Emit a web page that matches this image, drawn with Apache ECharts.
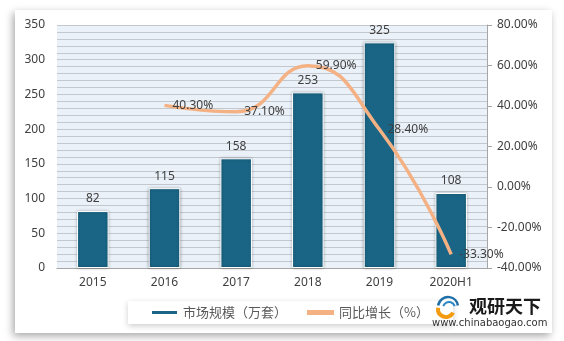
<!DOCTYPE html>
<html><head><meta charset="utf-8">
<script src="https://cdn.jsdelivr.net/npm/echarts@6/dist/echarts.min.js"></script>
<style>html,body{margin:0;padding:0;background:#fff;}#c{width:564px;height:341px;}</style>
</head><body><div id="c"></div>
<script>
const categories = ['2015','2016','2017','2018','2019','2020H1'];
const marketSize = [82,115,158,253,325,108];
const growth = [null,40.3,37.1,59.9,28.4,-33.3];
const leftTicks = {min:0,max:350,interval:50};
const rightTicks = {min:-40,max:80,interval:20};
const seriesNames = ['市场规模（万套）','同比增长（%）'];

const FONT = "'Noto Sans','Noto Sans CJK SC',sans-serif";
const chart = echarts.init(document.getElementById('c'), null, {renderer:'canvas'});
chart.setOption({
  animation:false,
  textStyle:{fontFamily:FONT},
  graphic:[
    {type:'rect', z:-10, shape:{x:15,y:10,width:537,height:323},
     style:{fill:'#fff', shadowBlur:8, shadowColor:'rgba(0,0,0,0.35)', shadowOffsetX:-2, shadowOffsetY:3}},
    {type:'arc', z:10, shape:{cx:448,cy:307,r:10,startAngle:Math.PI*1.05,endAngle:Math.PI*1.95},
     style:{stroke:'#1f6fa8', lineWidth:2.5, fill:null}},
    {type:'arc', z:10, shape:{cx:449,cy:308,r:6,startAngle:Math.PI*1.1,endAngle:Math.PI*1.9},
     style:{stroke:'#2a86c5', lineWidth:2, fill:null}},
    {type:'arc', z:10, shape:{cx:446,cy:309,r:8,startAngle:Math.PI*0.15,endAngle:Math.PI*1.05},
     style:{stroke:'#f39c12', lineWidth:4, fill:null}},
    {type:'text', z:10, left:469, top:297, style:{text:'观研天下', font:"bold 18px 'Noto Sans CJK SC'", fill:'#1a1a1a'}},
    {type:'text', z:10, left:432, top:318, style:{text:'www.chinabaogao.com', font:"10px 'DejaVu Sans','Noto Sans'", fill:'#333'}}
  ],
  grid:{left:57,right:77,top:25,bottom:73,show:true,backgroundColor:'#eaf1f8',borderWidth:0},
  legend:{
    data:[{name:seriesNames[0],icon:'rect'},{name:seriesNames[1],icon:'rect'}],
    left:128, top:301, itemWidth:27, itemHeight:5, itemGap:20,
    padding:[5,24,5,22],
    backgroundColor:'#fff', shadowBlur:6, shadowColor:'rgba(0,0,0,0.2)', shadowOffsetY:2,
    textStyle:{color:'#595959',fontSize:13,fontFamily:"'Noto Sans CJK SC',sans-serif"}
  },
  xAxis:{type:'category',data:categories,
    axisLine:{lineStyle:{color:'#a6a6a6',width:1}},axisTick:{show:false},
    axisLabel:{color:'#404040',fontSize:12,margin:9}},
  yAxis:[
    {type:'value',min:leftTicks.min,max:leftTicks.max,interval:leftTicks.interval,
     axisLine:{show:false},axisTick:{show:false},
     axisLabel:{color:'#404040',fontSize:12,margin:12},
     splitLine:{lineStyle:{color:'#c3c8ce',width:1}},
     minorTick:{show:false,splitNumber:5},
     minorSplitLine:{show:true,lineStyle:{color:'#c3c8ce',width:1}}},
    {type:'value',min:rightTicks.min,max:rightTicks.max,interval:rightTicks.interval,position:'right',
     axisLine:{show:true,lineStyle:{color:'#a6a6a6'}},axisTick:{show:true,length:5,lineStyle:{color:'#a6a6a6'}},
     axisLabel:{color:'#404040',fontSize:12,margin:10,formatter:v=>v.toFixed(2)+'%'},
     splitLine:{show:false}}
  ],
  series:[
    {name:seriesNames[0],type:'bar',data:marketSize,barWidth:'44%',
     itemStyle:{color:'#1a6585',borderColor:'#ffffff',borderWidth:1,shadowBlur:3,shadowColor:'rgba(0,0,0,0.35)'},
     label:{show:true,position:'top',color:'#404040',fontSize:12,distance:6}},
    {name:seriesNames[1],type:'line',yAxisIndex:1,data:growth,smooth:0.5,symbol:'circle',symbolSize:0.01,showSymbol:true,connectNulls:false,
     lineStyle:{color:'#f4b183',width:3.5},itemStyle:{color:'#f4b183'},
     label:{show:true,position:'right',color:'#404040',fontSize:12,distance:8,formatter:p=>p.value.toFixed(2)+'%'}}
  ]
});
</script></body></html>
